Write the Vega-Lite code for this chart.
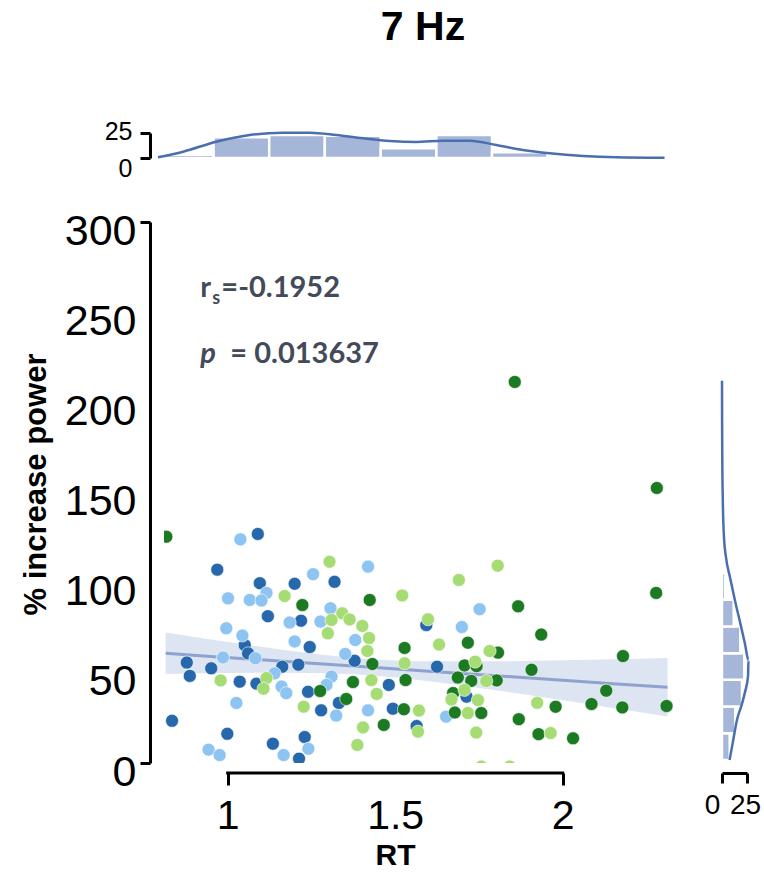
{
  "$schema": "https://vega.github.io/schema/vega-lite/v6.json",
  "padding": {"left": 20, "top": 7, "right": 0, "bottom": 0},
  "config": {"view": {"stroke": null}, "axis": {"grid": false, "labelFont": "Liberation Sans", "titleFont": "Liberation Sans", "labelColor": "black", "titleColor": "black", "domainColor": "black", "tickColor": "black"}},
  "datasets": {
    "points": [
      {"rt": 1.090, "power": 127.0, "group": "g1"}, {"rt": 0.969, "power": 107.2, "group": "g1"}, {"rt": 1.096, "power": 99.7, "group": "g1"}, {"rt": 1.200, "power": 99.4, "group": "g1"}, {"rt": 1.319, "power": 100.5, "group": "g1"}, {"rt": 1.120, "power": 81.4, "group": "g1"}, {"rt": 1.219, "power": 78.9, "group": "g1"}, {"rt": 1.051, "power": 65.4, "group": "g1"}, {"rt": 1.245, "power": 64.3, "group": "g1"}, {"rt": 1.061, "power": 60.8, "group": "g1"}, {"rt": 0.878, "power": 55.7, "group": "g1"}, {"rt": 0.887, "power": 48.3, "group": "g1"}, {"rt": 0.951, "power": 52.5, "group": "g1"}, {"rt": 1.036, "power": 45.1, "group": "g1"}, {"rt": 1.086, "power": 44.0, "group": "g1"}, {"rt": 1.163, "power": 53.4, "group": "g1"}, {"rt": 1.211, "power": 54.5, "group": "g1"}, {"rt": 1.240, "power": 39.5, "group": "g1"}, {"rt": 1.379, "power": 56.7, "group": "g1"}, {"rt": 1.481, "power": 43.3, "group": "g1"}, {"rt": 1.625, "power": 53.4, "group": "g1"}, {"rt": 1.593, "power": 76.5, "group": "g1"}, {"rt": 1.332, "power": 33.3, "group": "g1"}, {"rt": 1.279, "power": 29.2, "group": "g1"}, {"rt": 1.493, "power": 30.1, "group": "g1"}, {"rt": 1.564, "power": 20.5, "group": "g1"}, {"rt": 0.834, "power": 23.4, "group": "g1"}, {"rt": 0.999, "power": 16.2, "group": "g1"}, {"rt": 1.135, "power": 10.7, "group": "g1"}, {"rt": 1.230, "power": 14.4, "group": "g1"}, {"rt": 1.213, "power": 2.4, "group": "g1"}, {"rt": 1.713, "power": 36.8, "group": "g1"},
      {"rt": 1.038, "power": 124.0, "group": "g2"}, {"rt": 1.419, "power": 108.9, "group": "g2"}, {"rt": 1.255, "power": 104.7, "group": "g2"}, {"rt": 1.116, "power": 94.3, "group": "g2"}, {"rt": 1.001, "power": 91.3, "group": "g2"}, {"rt": 1.066, "power": 90.4, "group": "g2"}, {"rt": 1.101, "power": 90.1, "group": "g2"}, {"rt": 1.307, "power": 85.8, "group": "g2"}, {"rt": 1.185, "power": 77.9, "group": "g2"}, {"rt": 1.277, "power": 78.4, "group": "g2"}, {"rt": 0.996, "power": 74.7, "group": "g2"}, {"rt": 1.044, "power": 70.7, "group": "g2"}, {"rt": 1.200, "power": 67.4, "group": "g2"}, {"rt": 1.381, "power": 68.2, "group": "g2"}, {"rt": 0.986, "power": 58.5, "group": "g2"}, {"rt": 1.083, "power": 58.1, "group": "g2"}, {"rt": 1.140, "power": 49.7, "group": "g2"}, {"rt": 1.310, "power": 47.9, "group": "g2"}, {"rt": 1.295, "power": 43.3, "group": "g2"}, {"rt": 1.161, "power": 42.4, "group": "g2"}, {"rt": 1.175, "power": 38.7, "group": "g2"}, {"rt": 1.026, "power": 33.3, "group": "g2"}, {"rt": 1.351, "power": 60.5, "group": "g2"}, {"rt": 1.324, "power": 26.3, "group": "g2"}, {"rt": 1.419, "power": 29.2, "group": "g2"}, {"rt": 1.652, "power": 25.7, "group": "g2"}, {"rt": 0.943, "power": 7.4, "group": "g2"}, {"rt": 0.976, "power": 4.4, "group": "g2"}, {"rt": 1.167, "power": 4.4, "group": "g2"}, {"rt": 1.241, "power": 7.9, "group": "g2"}, {"rt": 1.752, "power": 85.3, "group": "g2"}, {"rt": 1.699, "power": 75.4, "group": "g2"},
      {"rt": 0.817, "power": 125.5, "group": "g4"}, {"rt": 1.223, "power": 87.6, "group": "g4"}, {"rt": 1.424, "power": 90.4, "group": "g4"}, {"rt": 1.528, "power": 63.8, "group": "g4"}, {"rt": 1.432, "power": 54.9, "group": "g4"}, {"rt": 1.374, "power": 44.9, "group": "g4"}, {"rt": 1.531, "power": 46.0, "group": "g4"}, {"rt": 1.276, "power": 39.9, "group": "g4"}, {"rt": 1.354, "power": 35.5, "group": "g4"}, {"rt": 1.526, "power": 29.8, "group": "g4"}, {"rt": 1.466, "power": 21.1, "group": "g4"}, {"rt": 1.717, "power": 66.7, "group": "g4"}, {"rt": 1.807, "power": 61.2, "group": "g4"}, {"rt": 1.707, "power": 54.1, "group": "g4"}, {"rt": 1.743, "power": 53.7, "group": "g4"}, {"rt": 1.687, "power": 47.4, "group": "g4"}, {"rt": 1.727, "power": 45.5, "group": "g4"}, {"rt": 1.803, "power": 45.8, "group": "g4"}, {"rt": 1.673, "power": 38.8, "group": "g4"}, {"rt": 1.678, "power": 28.0, "group": "g4"}, {"rt": 1.757, "power": 27.7, "group": "g4"}, {"rt": 1.857, "power": 211.3, "group": "g4"}, {"rt": 2.281, "power": 152.5, "group": "g4"}, {"rt": 2.279, "power": 94.3, "group": "g4"}, {"rt": 1.867, "power": 86.9, "group": "g4"}, {"rt": 1.936, "power": 71.2, "group": "g4"}, {"rt": 1.907, "power": 51.7, "group": "g4"}, {"rt": 2.180, "power": 59.3, "group": "g4"}, {"rt": 2.130, "power": 40.1, "group": "g4"}, {"rt": 1.979, "power": 31.2, "group": "g4"}, {"rt": 2.086, "power": 32.7, "group": "g4"}, {"rt": 2.178, "power": 30.8, "group": "g4"}, {"rt": 2.310, "power": 31.6, "group": "g4"}, {"rt": 1.869, "power": 24.3, "group": "g4"}, {"rt": 1.928, "power": 16.0, "group": "g4"}, {"rt": 2.031, "power": 13.7, "group": "g4"},
      {"rt": 1.304, "power": 111.6, "group": "g3"}, {"rt": 1.170, "power": 92.6, "group": "g3"}, {"rt": 1.521, "power": 92.9, "group": "g3"}, {"rt": 1.342, "power": 83.0, "group": "g3"}, {"rt": 1.310, "power": 79.3, "group": "g3"}, {"rt": 1.364, "power": 79.6, "group": "g3"}, {"rt": 1.402, "power": 76.0, "group": "g3"}, {"rt": 1.299, "power": 71.9, "group": "g3"}, {"rt": 1.422, "power": 69.3, "group": "g3"}, {"rt": 1.631, "power": 65.7, "group": "g3"}, {"rt": 1.598, "power": 79.7, "group": "g3"}, {"rt": 1.417, "power": 62.1, "group": "g3"}, {"rt": 0.979, "power": 45.8, "group": "g3"}, {"rt": 1.116, "power": 47.1, "group": "g3"}, {"rt": 1.107, "power": 41.2, "group": "g3"}, {"rt": 1.429, "power": 46.0, "group": "g3"}, {"rt": 1.528, "power": 55.3, "group": "g3"}, {"rt": 1.445, "power": 38.3, "group": "g3"}, {"rt": 1.227, "power": 31.2, "group": "g3"}, {"rt": 1.571, "power": 29.1, "group": "g3"}, {"rt": 1.404, "power": 19.7, "group": "g3"}, {"rt": 1.387, "power": 10.0, "group": "g3"}, {"rt": 1.568, "power": 17.4, "group": "g3"}, {"rt": 1.668, "power": 35.2, "group": "g3"}, {"rt": 1.690, "power": 101.5, "group": "g3"}, {"rt": 1.806, "power": 109.4, "group": "g3"}, {"rt": 1.782, "power": 62.1, "group": "g3"}, {"rt": 1.739, "power": 56.2, "group": "g3"}, {"rt": 1.772, "power": 45.5, "group": "g3"}, {"rt": 1.707, "power": 40.5, "group": "g3"}, {"rt": 1.747, "power": 34.9, "group": "g3"}, {"rt": 1.717, "power": 27.7, "group": "g3"}, {"rt": 1.742, "power": 16.9, "group": "g3"}, {"rt": 1.924, "power": 33.4, "group": "g3"}, {"rt": 1.964, "power": 16.6, "group": "g3"}, {"rt": 1.757, "power": -2, "group": "g3"}, {"rt": 1.842, "power": -2, "group": "g3"}
    ],
    "band": [
      {"rt": 0.815, "fit": 60.8, "lo": 49.3, "hi": 72.3},
      {"rt": 0.95, "fit": 59.1, "lo": 49.7, "hi": 68.5},
      {"rt": 1.1, "fit": 57.2, "lo": 50.0, "hi": 64.4},
      {"rt": 1.25, "fit": 55.3, "lo": 49.9, "hi": 60.7},
      {"rt": 1.42, "fit": 53.2, "lo": 48.7, "hi": 57.7},
      {"rt": 1.6, "fit": 50.9, "lo": 45.4, "hi": 56.4},
      {"rt": 1.8, "fit": 48.4, "lo": 40.4, "hi": 56.4},
      {"rt": 2.0, "fit": 45.9, "lo": 34.8, "hi": 57.0},
      {"rt": 2.15, "fit": 44.0, "lo": 30.5, "hi": 57.5},
      {"rt": 2.313, "fit": 42.0, "lo": 25.8, "hi": 58.2}
    ],
    "topHist": [
      {"x0": 0.792, "x1": 0.958, "count": 3.3}, {"x0": 0.958, "x1": 1.124, "count": 20.7}, {"x0": 1.124, "x1": 1.290, "count": 23}, {"x0": 1.290, "x1": 1.457, "count": 22.3}, {"x0": 1.457, "x1": 1.623, "count": 9.7}, {"x0": 1.623, "x1": 1.789, "count": 23}, {"x0": 1.789, "x1": 1.955, "count": 5.7}, {"x0": 1.955, "x1": 2.121, "count": 1.7}, {"x0": 2.121, "x1": 2.288, "count": 0.6}
    ],
    "topKde": [
      {"rt": 0.792, "density": 0.7}, {"rt": 0.867, "density": 6.3}, {"rt": 0.966, "density": 16.3}, {"rt": 1.066, "density": 23}, {"rt": 1.165, "density": 25.3}, {"rt": 1.245, "density": 25.3}, {"rt": 1.324, "density": 23}, {"rt": 1.404, "density": 19.7}, {"rt": 1.484, "density": 17}, {"rt": 1.563, "density": 16}, {"rt": 1.643, "density": 17.3}, {"rt": 1.722, "density": 17.3}, {"rt": 1.802, "density": 13}, {"rt": 1.881, "density": 8}, {"rt": 1.961, "density": 4.7}, {"rt": 2.061, "density": 2}, {"rt": 2.160, "density": 0.7}, {"rt": 2.304, "density": 0.2}
    ],
    "rightHist": [
      {"y0": 1.7, "y1": 16.5, "count": 7.7}, {"y0": 16.5, "y1": 31.3, "count": 13.3}, {"y0": 31.3, "y1": 46.1, "count": 20}, {"y0": 46.1, "y1": 60.9, "count": 22.3}, {"y0": 60.9, "y1": 75.7, "count": 18.3}, {"y0": 75.7, "y1": 90.5, "count": 11.7}, {"y0": 90.5, "y1": 105.3, "count": 3.3}
    ],
    "rightKde": [
      {"power": 1.7, "density": 7.6}, {"power": 12, "density": 11}, {"power": 24, "density": 15}, {"power": 32, "density": 19.5}, {"power": 40, "density": 23.3}, {"power": 48, "density": 26}, {"power": 57, "density": 26.5}, {"power": 66, "density": 23}, {"power": 77, "density": 18.5}, {"power": 90, "density": 13}, {"power": 103, "density": 8}, {"power": 114, "density": 4}, {"power": 125, "density": 2}, {"power": 146, "density": 0.8}, {"power": 168, "density": 0.3}, {"power": 190, "density": 0.1}, {"power": 212, "density": 0}
    ],
    "stats": [{"rs": "=-0.1952", "p": "= 0.013637"}]
  },
  "columns": 2,
  "align": "each",
  "bounds": "flush",
  "spacing": {"row": 64, "column": 32},
  "concat": [
    {
      "width": 526,
      "height": 25,
      "title": {"text": "7 Hz", "font": "Liberation Sans", "fontSize": 41, "fontWeight": "bold", "color": "black", "anchor": "middle", "offset": 70, "dx": -4},
      "layer": [
        {
          "data": {"name": "topHist"},
          "mark": {"type": "rect", "color": "#a5b6d9", "stroke": "white", "strokeWidth": 2.5},
          "encoding": {
            "x": {"field": "x0", "type": "quantitative", "scale": {"domain": [0.81, 2.38], "nice": false, "zero": false}, "axis": null},
            "x2": {"field": "x1"},
            "y": {"field": "count", "type": "quantitative", "scale": {"domain": [0, 25], "nice": false}, "axis": {"values": [0, 25], "title": null, "offset": 14, "domainWidth": 3, "tickWidth": 3, "tickSize": 10, "labelFontSize": 25, "labelPadding": 8, "labelOffset": {"condition": {"test": "datum.value === 0", "value": 10}, "value": -2}}},
            "y2": {"datum": 0}
          }
        },
        {
          "data": {"name": "topKde"},
          "mark": {"type": "line", "color": "#4a6fae", "strokeWidth": 2.5, "interpolate": "monotone"},
          "encoding": {
            "x": {"field": "rt", "type": "quantitative", "scale": {"domain": [0.81, 2.38], "nice": false, "zero": false}, "axis": null},
            "y": {"field": "density", "type": "quantitative", "scale": {"domain": [0, 25], "nice": false}, "title": null}
          }
        }
      ]
    },
    {
      "width": 25,
      "height": 25,
      "data": {"values": []},
      "mark": "point"
    },
    {
      "width": 526,
      "height": 541,
      "layer": [
        {
          "data": {"name": "band"},
          "mark": {"type": "area", "color": "#dde4f2", "interpolate": "monotone"},
          "encoding": {
            "x": {"field": "rt", "type": "quantitative", "scale": {"domain": [0.81, 2.38], "nice": false, "zero": false}, "title": "RT"},
            "y": {"field": "lo", "type": "quantitative", "scale": {"domain": [0, 300], "nice": false}, "title": "% increase power"},
            "y2": {"field": "hi"}
          }
        },
        {
          "data": {"name": "band"},
          "mark": {"type": "line", "color": "#8fa2cf", "strokeWidth": 3},
          "encoding": {
            "x": {"field": "rt", "type": "quantitative", "scale": {"domain": [0.81, 2.38], "nice": false, "zero": false}, "title": "RT"},
            "y": {"field": "fit", "type": "quantitative", "scale": {"domain": [0, 300], "nice": false}, "title": "% increase power"}
          }
        },
        {
          "data": {"name": "points"},
          "mark": {"type": "circle", "size": 170, "opacity": 1, "stroke": "white", "strokeWidth": 0.6, "clip": true},
          "encoding": {
            "x": {"field": "rt", "type": "quantitative", "scale": {"domain": [0.81, 2.38], "nice": false, "zero": false}, "title": "RT",
              "axis": {"values": [1, 1.5, 2], "labelExpr": "'' + datum.value", "domain": false, "offset": 10, "tickSize": 12, "tickWidth": 3, "tickOpacity": {"condition": {"test": "datum.value !== 1.5", "value": 1}, "value": 0}, "labelFontSize": 41, "labelPadding": 11, "labelFlush": false, "titleFontSize": 30, "titleFontWeight": "bold", "titlePadding": 4, "titleX": 231}},
            "y": {"field": "power", "type": "quantitative", "scale": {"domain": [0, 300], "nice": false}, "title": "% increase power",
              "axis": {"values": [0, 50, 100, 150, 200, 250, 300], "offset": 14, "domainWidth": 3, "tickSize": 10, "tickWidth": 3, "tickOpacity": {"condition": {"test": "datum.value === 0 || datum.value === 300", "value": 1}, "value": 0}, "labelFontSize": 43, "labelPadding": 4, "labelOffset": 9, "titleFontSize": 31, "titleFontWeight": "bold", "titlePadding": 12, "titleY": 262}},
            "color": {"field": "group", "type": "nominal", "scale": {"domain": ["g1", "g2", "g3", "g4"], "range": ["#2767ac", "#8ec4f2", "#a6dc74", "#1c7a22"]}, "legend": null}
          }
        },
        {
          "data": {"name": "stats"},
          "mark": {"type": "rule", "color": "black", "strokeWidth": 3, "strokeCap": "square", "yOffset": 10},
          "encoding": {
            "x": {"datum": 1, "type": "quantitative", "scale": {"domain": [0.81, 2.38], "nice": false, "zero": false}, "title": "RT"},
            "x2": {"datum": 2},
            "y": {"datum": 0, "type": "quantitative", "scale": {"domain": [0, 300], "nice": false}, "title": "% increase power"}
          }
        },
        {
          "data": {"name": "stats"},
          "mark": {"type": "text", "align": "left", "baseline": "alphabetic", "font": "Lato", "fontWeight": "bold", "fontSize": 29, "color": "#434a5a"},
          "encoding": {
            "x": {"datum": 0.9185, "type": "quantitative", "scale": {"domain": [0.81, 2.38], "nice": false, "zero": false}, "title": "RT"},
            "y": {"datum": 258.6, "type": "quantitative", "scale": {"domain": [0, 300], "nice": false}, "title": "% increase power"},
            "text": {"value": "r"}
          }
        },
        {
          "data": {"name": "stats"},
          "mark": {"type": "text", "align": "left", "baseline": "alphabetic", "font": "Lato", "fontWeight": "bold", "fontSize": 18, "color": "#434a5a", "dx": 12, "dy": 7},
          "encoding": {
            "x": {"datum": 0.9185, "type": "quantitative", "scale": {"domain": [0.81, 2.38], "nice": false, "zero": false}, "title": "RT"},
            "y": {"datum": 258.6, "type": "quantitative", "scale": {"domain": [0, 300], "nice": false}, "title": "% increase power"},
            "text": {"value": "s"}
          }
        },
        {
          "data": {"name": "stats"},
          "mark": {"type": "text", "align": "left", "baseline": "alphabetic", "font": "Lato", "fontWeight": "bold", "fontSize": 29, "color": "#434a5a", "dx": 21},
          "encoding": {
            "x": {"datum": 0.9185, "type": "quantitative", "scale": {"domain": [0.81, 2.38], "nice": false, "zero": false}, "title": "RT"},
            "y": {"datum": 258.6, "type": "quantitative", "scale": {"domain": [0, 300], "nice": false}, "title": "% increase power"},
            "text": {"field": "rs"}
          }
        },
        {
          "data": {"name": "stats"},
          "mark": {"type": "text", "align": "left", "baseline": "alphabetic", "font": "Lato", "fontWeight": "bold", "fontStyle": "italic", "fontSize": 29, "color": "#434a5a"},
          "encoding": {
            "x": {"datum": 0.9185, "type": "quantitative", "scale": {"domain": [0.81, 2.38], "nice": false, "zero": false}, "title": "RT"},
            "y": {"datum": 221.7, "type": "quantitative", "scale": {"domain": [0, 300], "nice": false}, "title": "% increase power"},
            "text": {"value": "p"}
          }
        },
        {
          "data": {"name": "stats"},
          "mark": {"type": "text", "align": "left", "baseline": "alphabetic", "font": "Lato", "fontWeight": "bold", "fontSize": 29, "color": "#434a5a", "dx": 30},
          "encoding": {
            "x": {"datum": 0.9185, "type": "quantitative", "scale": {"domain": [0.81, 2.38], "nice": false, "zero": false}, "title": "RT"},
            "y": {"datum": 221.7, "type": "quantitative", "scale": {"domain": [0, 300], "nice": false}, "title": "% increase power"},
            "text": {"field": "p"}
          }
        }
      ]
    },
    {
      "width": 25,
      "height": 541,
      "layer": [
        {
          "data": {"name": "rightHist"},
          "mark": {"type": "rect", "color": "#a5b6d9", "stroke": "white", "strokeWidth": 2.5},
          "encoding": {
            "y": {"field": "y0", "type": "quantitative", "scale": {"domain": [0, 300], "nice": false}, "axis": null},
            "y2": {"field": "y1"},
            "x": {"field": "count", "type": "quantitative", "scale": {"domain": [0, 25], "nice": false}, "title": null, "axis": {"values": [0, 25], "offset": 10, "domainWidth": 3, "tickWidth": 3, "tickSize": 10, "labelFontSize": 28, "labelPadding": 8, "labelFlush": false, "labelOffset": {"condition": {"test": "datum.value === 0", "value": -10}, "value": -2}}},
            "x2": {"datum": 0}
          }
        },
        {
          "data": {"name": "rightKde"},
          "mark": {"type": "line", "color": "#4a6fae", "strokeWidth": 2.5, "interpolate": "monotone"},
          "encoding": {
            "y": {"field": "power", "type": "quantitative", "scale": {"domain": [0, 300], "nice": false}, "axis": null},
            "x": {"field": "density", "type": "quantitative", "scale": {"domain": [0, 25], "nice": false}, "title": null},
            "order": {"field": "power", "type": "quantitative"}
          }
        }
      ]
    }
  ]
}
